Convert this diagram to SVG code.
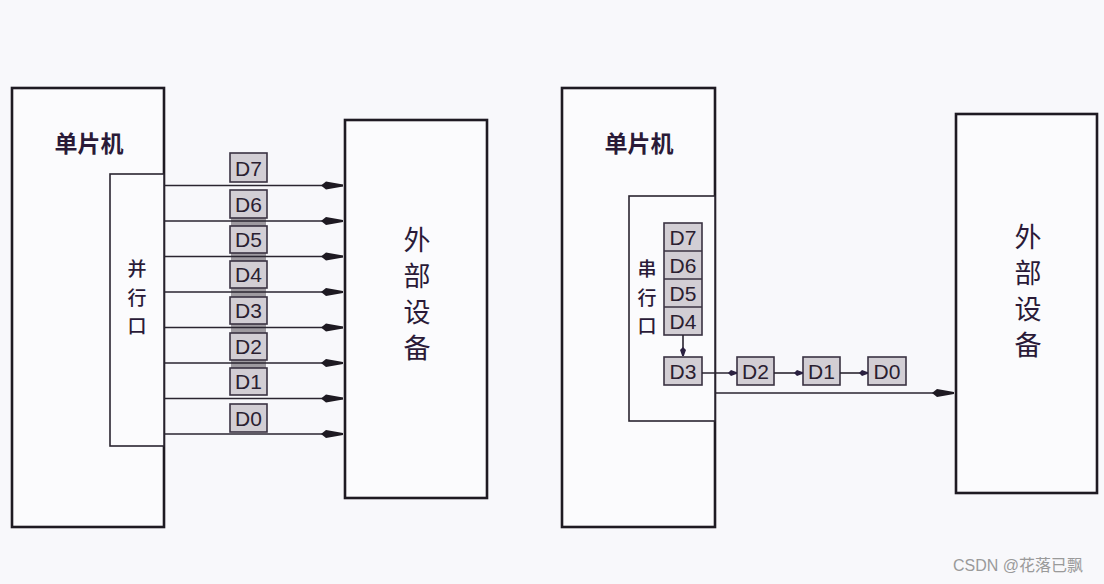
<svg xmlns="http://www.w3.org/2000/svg" width="1104" height="584" viewBox="0 0 1104 584">
<style>
.bg{fill:#f8f8fb}
.main{fill:#fbfbfd;stroke:#1e1a22;stroke-width:2.6}
.port{fill:#fbfbfd;stroke:#2a2530;stroke-width:1.6}
.cn{font-family:"Noto Sans CJK SC","Noto Sans",sans-serif;fill:#2a1a38}
.d{fill:#d2ced4;stroke:#3a3242;stroke-width:1.6}
.dt{font-family:"Liberation Sans","DejaVu Sans",sans-serif;font-size:21px;fill:#2a2030;text-anchor:middle}
.wire{stroke:#2a2530;stroke-width:1.6;fill:none}
.wm{font-family:"Liberation Sans","Noto Sans CJK SC",sans-serif;font-size:16px;fill:#9a9a9a}
</style>
<defs>
<marker id="ah" markerWidth="22" markerHeight="10" refX="22" refY="5" orient="auto" markerUnits="userSpaceOnUse">
<path d="M0,5 L5,1 L22,4 L22,6 L5,9 Z" fill="#1e1a22"/>
</marker>
<marker id="sa" markerWidth="10" markerHeight="8" refX="9" refY="4" orient="auto" markerUnits="userSpaceOnUse">
<path d="M0,4 L3,1 L9,3.2 L9,4.8 L3,7 Z" fill="#2a2040"/>
</marker>
</defs>
<rect class="bg" x="0" y="0" width="1104" height="584"/>

<g id="mcu-left">
<rect class="main" x="12" y="88" width="152" height="439"/>
<text class="cn" x="89" y="152" font-size="23" font-weight="600" text-anchor="middle">单片机</text>
</g>
<g id="parallel-port">
<rect class="port" x="110" y="174" width="54" height="272"/>
<text class="cn" font-size="19" font-weight="500" text-anchor="middle"><tspan x="137" y="276">并</tspan><tspan x="137" y="305">行</tspan><tspan x="137" y="333">口</tspan></text>
</g>
<g id="ext-left">
<rect class="main" x="345" y="120" width="142" height="378"/>
<text class="cn" font-size="27" text-anchor="middle"><tspan x="417" y="250">外</tspan><tspan x="417" y="286">部</tspan><tspan x="417" y="322">设</tspan><tspan x="417" y="358">备</tspan></text>
</g>

<g id="parallel-labels">
<rect x="231" y="190" width="35" height="205" fill="#9e9aa0"/>
<rect class="d" x="230" y="153" width="37" height="29"/><text class="dt" x="248.5" y="175.5">D7</text>
<rect class="d" x="230" y="190" width="37" height="28"/><text class="dt" x="248.5" y="212">D6</text>
<rect class="d" x="230" y="226" width="37" height="27"/><text class="dt" x="248.5" y="247">D5</text>
<rect class="d" x="230" y="261" width="37" height="27"/><text class="dt" x="248.5" y="282">D4</text>
<rect class="d" x="230" y="297" width="37" height="27"/><text class="dt" x="248.5" y="318">D3</text>
<rect class="d" x="230" y="333" width="37" height="27"/><text class="dt" x="248.5" y="354">D2</text>
<rect class="d" x="230" y="368" width="37" height="27"/><text class="dt" x="248.5" y="389">D1</text>
<rect class="d" x="230" y="404" width="37" height="28"/><text class="dt" x="248.5" y="425.5">D0</text>
</g>

<g id="mcu-right">
<rect class="main" x="562" y="88" width="153" height="439"/>
<text class="cn" x="639" y="152" font-size="23" font-weight="600" text-anchor="middle">单片机</text>
</g>
<g id="serial-port">
<rect class="port" x="629" y="196" width="86" height="225"/>
<text class="cn" font-size="19" font-weight="500" text-anchor="middle"><tspan x="647" y="276">串</tspan><tspan x="647" y="305">行</tspan><tspan x="647" y="333">口</tspan></text>
</g>
<g id="shift-register">
<rect class="d" x="664" y="223" width="38" height="112"/>
<line x1="664" y1="251" x2="702" y2="251" stroke="#3a3242" stroke-width="1.6"/>
<line x1="664" y1="279" x2="702" y2="279" stroke="#3a3242" stroke-width="1.6"/>
<line x1="664" y1="307" x2="702" y2="307" stroke="#3a3242" stroke-width="1.6"/>
<text class="dt" x="683" y="244.5">D7</text>
<text class="dt" x="683" y="272.5">D6</text>
<text class="dt" x="683" y="300.5">D5</text>
<text class="dt" x="683" y="328.5">D4</text>
</g>
<g id="serial-d3"><rect class="d" x="664" y="357" width="38" height="28"/><text class="dt" x="683" y="378.5">D3</text></g>
<g id="serial-d2"><rect class="d" x="737" y="357" width="37" height="28"/><text class="dt" x="755.5" y="378.5">D2</text></g>
<g id="serial-d1"><rect class="d" x="803" y="357" width="37" height="28"/><text class="dt" x="821.5" y="378.5">D1</text></g>
<g id="serial-d0"><rect class="d" x="868" y="357" width="38" height="28"/><text class="dt" x="887" y="378.5">D0</text></g>
<g id="ext-right">
<rect class="main" x="956" y="114" width="141" height="379"/>
<text class="cn" font-size="27" text-anchor="middle"><tspan x="1028" y="247">外</tspan><tspan x="1028" y="283">部</tspan><tspan x="1028" y="319">设</tspan><tspan x="1028" y="355">备</tspan></text>
</g>

<g id="connectors">
<line class="wire" x1="164" y1="185.5" x2="343" y2="185.5" marker-end="url(#ah)"/>
<line class="wire" x1="164" y1="221" x2="343" y2="221" marker-end="url(#ah)"/>
<line class="wire" x1="164" y1="256.5" x2="343" y2="256.5" marker-end="url(#ah)"/>
<line class="wire" x1="164" y1="292" x2="343" y2="292" marker-end="url(#ah)"/>
<line class="wire" x1="164" y1="327.5" x2="343" y2="327.5" marker-end="url(#ah)"/>
<line class="wire" x1="164" y1="363" x2="343" y2="363" marker-end="url(#ah)"/>
<line class="wire" x1="164" y1="398.5" x2="343" y2="398.5" marker-end="url(#ah)"/>
<line class="wire" x1="164" y1="434" x2="343" y2="434" marker-end="url(#ah)"/>
<line class="wire" x1="683" y1="335" x2="683" y2="356" marker-end="url(#sa)"/>
<line class="wire" x1="702" y1="373" x2="737" y2="373" marker-end="url(#sa)"/>
<line class="wire" x1="774" y1="373" x2="803" y2="373" marker-end="url(#sa)"/>
<line class="wire" x1="840" y1="373" x2="868" y2="373" marker-end="url(#sa)"/>
<line class="wire" x1="715" y1="393" x2="954" y2="393" marker-end="url(#ah)"/>
</g>
<text class="wm" x="953" y="571">CSDN @花落已飘</text>
</svg>
